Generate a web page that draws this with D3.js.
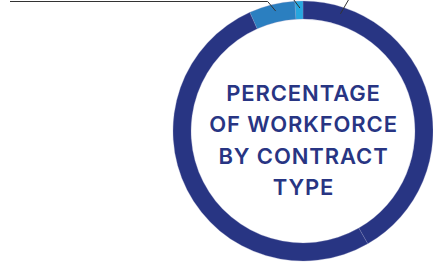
<!DOCTYPE html>
<html lang="en">
    <head>
        <meta charset="UTF-8" />
        <title>Percentage of Workforce by Contract Type</title>
        <script src="https://d3js.org/d3.v7.min.js"></script>
        <style>
            body {
                margin: 0;
                background: #fff;
            }
            .title {
                font-family: Inter, sans-serif;
                font-weight: 600;
                letter-spacing: 0.9px;
                fill: #283583;
            }
            .leader {
                fill: none;
                stroke: #333;
                stroke-width: 1px;
            }
        </style>
    </head>
    <body>
        <svg width="433" height="262"></svg>

        <script>
            // contract types, share of workforce (%) - read clockwise from 12 o'clock
            const categories = ['Type A', 'Type B', 'Type C', 'Type D'];
            const values = [41.7, 51.6, 5.7, 1.0];
            const colours = ['#283583', '#283583', '#2b7fc0', '#27a7df'];
            const titleLines = ['PERCENTAGE', 'OF WORKFORCE', 'BY CONTRACT', 'TYPE'];

            const svg = d3.select('svg'),
                cx = 303,
                cy = 131,
                outerR = 130,
                innerR = 112;

            const g = svg.append('g').attr('transform', `translate(${cx},${cy})`);

            const pie = d3
                .pie()
                .sort(null)
                .value((d) => d);

            const arc = d3.arc().innerRadius(innerR).outerRadius(outerR);

            const arcs = pie(values);

            g.selectAll('.slice')
                .data(arcs)
                .enter()
                .append('path')
                .attr('class', 'slice')
                .attr('d', arc)
                .attr('fill', (d, i) => colours[i])
                .attr('stroke', '#8a90c0')
                .attr('stroke-width', 0.3);

            // leader lines running up out of frame (labels are cropped off)
            const polar = (a, r) => [Math.sin(a) * r, -Math.cos(a) * r];
            const leaders = [
                { i: 0, t: 0.118, dx: 8 },
                { i: 2, t: 0.55, dx: -8 },
                { i: 3, t: 0.6, dx: -6 },
            ];
            leaders.forEach((l) => {
                const d = arcs[l.i];
                const a = d.startAngle + (d.endAngle - d.startAngle) * l.t;
                const p = polar(a, (innerR + outerR) / 2 + 2);
                if (l.i === 2) {
                    const top = -cy + 1.5;
                    const pts = [p, [p[0] + l.dx, top], [10 - cx, top]];
                    g.append('path').attr('class', 'leader').attr('stroke-width', 1.5).attr('stroke', '#555').attr('d', d3.line()(pts));
                } else {
                    g.append('path').attr('class', 'leader').attr('d', d3.line()([p, [p[0] + l.dx, -cy]]));
                }
            });

            const lineH = 31.5;
            g.append('text')
                .attr('class', 'title')
                .attr('text-anchor', 'middle')
                .attr('font-size', 22)
                .selectAll('tspan')
                .data(titleLines)
                .enter()
                .append('tspan')
                .attr('x', 0.5)
                .attr('y', (d, i) => -30.5 + i * lineH)
                .text((d) => d);
        </script>
    </body>
</html>
